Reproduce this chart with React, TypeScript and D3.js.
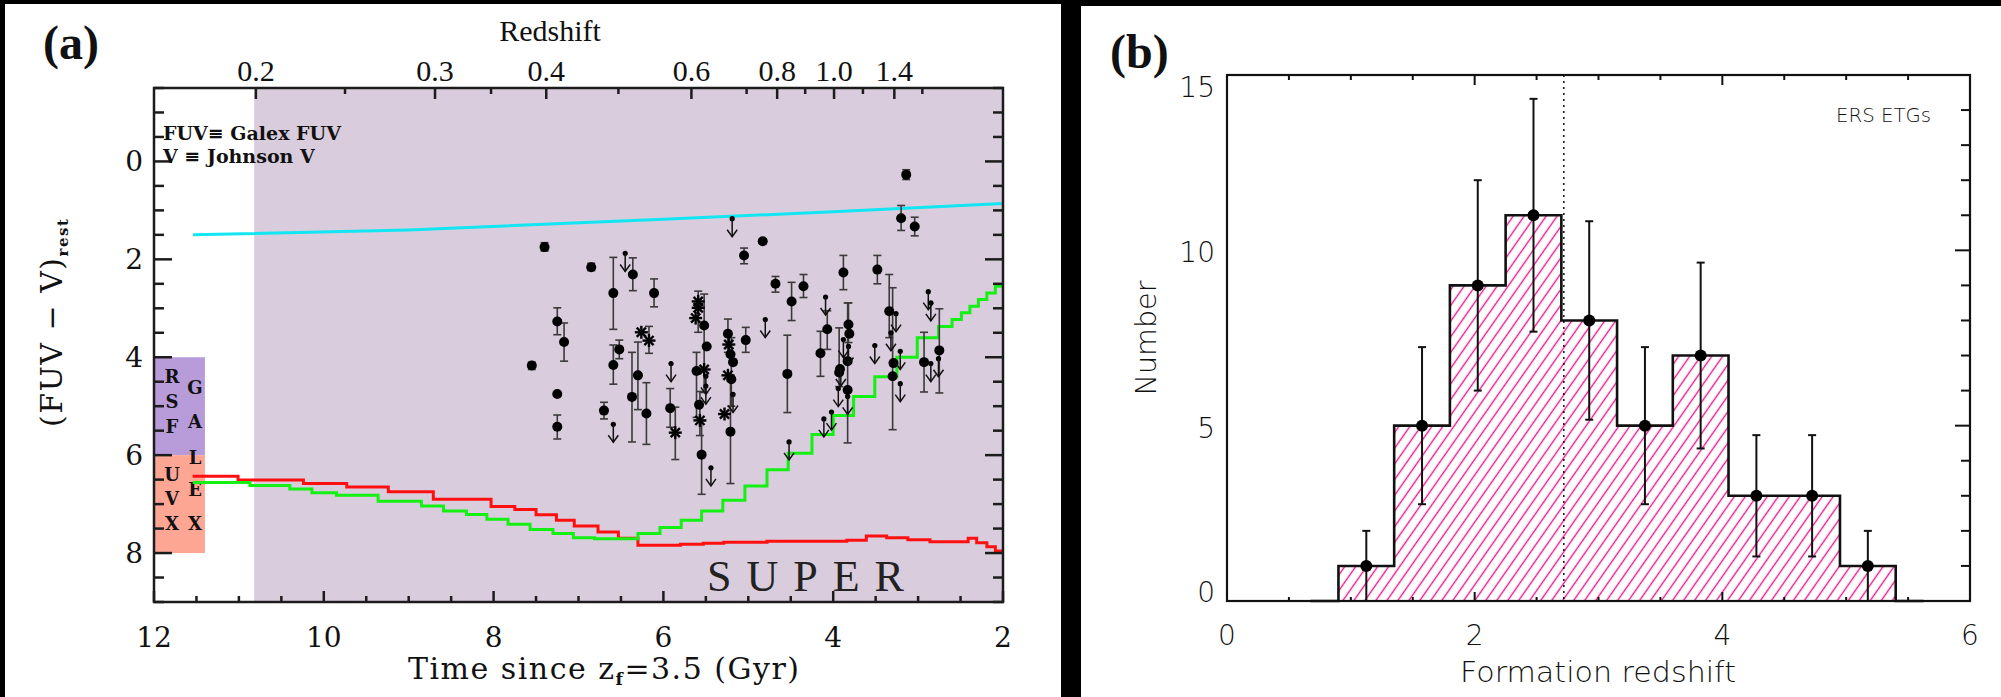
import React from "react";
import * as d3 from "d3";

// ---------------- Panel (a) data ----------------
const timeMajorTicks = [12, 10, 8, 6, 4, 2];
const colourMajorTicks = [0, 2, 4, 6, 8];
const redshiftLabels = ["0.2", "0.3", "0.4", "0.6", "0.8", "1.0", "1.4"];
const redshiftLabelTimes = [10.8, 8.69, 7.38, 5.67, 4.66, 3.99, 3.28];
const redshiftMinorTimes = [9.75, 8.03, 6.53, 5.02, 4.33, 3.65, 2.95];
const shadeStartTime = 10.82;

// cyan model track
const cyanTime = [11.54, 9, 6, 4, 2];
const cyanColour = [1.5, 1.4, 1.18, 1.03, 0.86];

// red stepped model track (value holds until next time)
const redTime = [11.545, 11.01, 10.24, 9.73, 9.24, 8.71, 8.03, 7.75, 7.5, 7.26, 7.05, 6.77, 6.53, 6.3, 5.8, 5.53, 5.29, 4.78, 3.84, 3.61, 3.37, 3.12, 2.86, 2.41, 2.31, 2.19, 2.09, 2.0];
const redColour = [6.43, 6.51, 6.58, 6.65, 6.75, 6.9, 7.05, 7.11, 7.22, 7.33, 7.45, 7.57, 7.7, 7.84, 7.82, 7.8, 7.78, 7.76, 7.74, 7.65, 7.69, 7.73, 7.77, 7.7, 7.79, 7.87, 7.96, 7.96];

// green stepped model track
const greenTime = [11.545, 10.87, 10.4, 10.14, 9.85, 9.36, 8.85, 8.59, 8.32, 8.08, 7.83, 7.57, 7.3, 7.06, 6.81, 6.3, 6.04, 5.79, 5.55, 5.3, 5.04, 4.78, 4.53, 4.25, 4.0, 3.76, 3.51, 3.25, 3.01, 2.76, 2.6, 2.49, 2.39, 2.29, 2.19, 2.09, 2.0];
const greenColour = [6.56, 6.62, 6.69, 6.77, 6.82, 6.94, 7.04, 7.14, 7.21, 7.31, 7.41, 7.52, 7.6, 7.69, 7.71, 7.6, 7.48, 7.33, 7.14, 6.92, 6.63, 6.3, 5.96, 5.58, 5.19, 4.8, 4.4, 4.0, 3.6, 3.37, 3.23, 3.09, 2.96, 2.82, 2.69, 2.55, 2.55];

// detections: [time, colour, errTop, errBottom]
const detections: [number, number, number | null, number | null][] = [
  [7.4, 1.75, 1.66, 1.83], [6.85, 2.16, 2.08, 2.23], [7.55, 4.17, 4.1, 4.25],
  [7.25, 3.27, 2.99, 3.54], [7.17, 3.69, 3.3, 4.08], [7.25, 4.75, null, null],
  [7.25, 5.42, 5.18, 5.67], [6.59, 2.69, 1.96, 3.43], [6.36, 2.31, 1.97, 2.64],
  [6.11, 2.69, 2.4, 2.97], [6.59, 4.16, 3.75, 4.55], [6.52, 3.84, 3.65, 4.03],
  [6.7, 5.09, 4.92, 5.26], [6.37, 4.81, 3.9, 5.73], [6.3, 4.37, 3.69, 5.07],
  [6.2, 5.15, 4.52, 5.78], [5.92, 5.04, 4.64, 5.43], [5.52, 3.35, 2.71, 4.72],
  [5.49, 3.78, null, null], [5.61, 4.28, 3.9, 5.23], [5.58, 4.97, null, null],
  [5.55, 5.99, 5.3, 6.8], [5.24, 3.52, 3.22, 3.9], [5.21, 3.94, null, null],
  [5.18, 4.1, null, null], [5.2, 4.45, 3.6, 5.0], [5.21, 5.52, 4.39, 6.58],
  [5.03, 3.65, 3.39, 3.9], [5.05, 1.92, 1.77, 2.09], [4.83, 1.63, 1.58, 1.68],
  [4.68, 2.5, 2.35, 2.67], [4.35, 2.55, 2.31, 2.78], [4.49, 2.86, 2.47, 3.25],
  [4.54, 4.34, 3.55, 5.13], [4.07, 3.43, 3.05, 3.84], [4.15, 3.92, 3.47, 4.39],
  [3.88, 2.27, 1.92, 2.62], [3.48, 2.21, 1.92, 2.5], [3.82, 3.33, 2.89, 3.7],
  [3.81, 3.52, null, null], [3.83, 4.08, null, null], [3.93, 4.31, 3.4, 4.6],
  [3.92, 4.24, null, null], [3.83, 4.67, 2.89, 5.75], [3.34, 3.06, 2.31, 3.6],
  [3.29, 4.12, null, null], [3.3, 4.39, 2.58, 5.48], [3.2, 1.16, 0.9, 1.41],
  [3.04, 1.33, 1.14, 1.52], [3.14, 0.27, 0.17, 0.37], [2.93, 4.1, 3.49, 4.71],
  [2.75, 3.86, 3.01, 4.73],
];

// asterisks: [time, colour, errTop, errBottom]
const asterisks: [number, number, number | null, number | null][] = [
  [6.26, 3.49, null, null], [6.17, 3.66, 3.37, 3.92], [5.86, 5.54, 5.02, 6.09],
  [5.59, 2.86, 2.65, 3.49], [5.59, 2.99, null, null], [5.62, 3.2, null, null],
  [5.52, 4.25, null, null], [5.57, 5.29, 4.7, 5.6], [5.23, 3.74, null, null],
  [5.24, 4.37, null, null], [5.28, 5.16, null, null],
];

// upper limits: [time, colour]
const upperLimits: [number, number][] = [
  [6.45, 1.88], [6.59, 5.37], [5.91, 4.13], [5.5, 4.39], [5.5, 4.59], [5.44, 6.26],
  [5.18, 4.76], [5.19, 1.17], [4.8, 3.23], [4.52, 5.73], [4.09, 2.77], [3.88, 3.64],
  [3.91, 4.22], [3.94, 4.64], [3.82, 3.78], [3.83, 4.8], [4.11, 5.26], [4.02, 5.12],
  [3.51, 3.76], [3.26, 3.11], [3.21, 3.88], [3.21, 4.54], [3.32, 3.5], [2.88, 2.66],
  [2.85, 2.89], [2.85, 4.13], [2.76, 4.03],
];

const rsfRange = [4, 6];
const uvxRange = [6, 8];
const boxTimeEdge = 11.4;
const rsfLetters = ["R", "S", "F"];
const rsfLetterY = [4.39, 4.9, 5.41];
const uvxLetters = ["U", "V", "X"];
const uvxLetterY = [6.39, 6.87, 7.38];
const galexLetters = ["G", "A", "L", "E", "X"];
const galexLetterY = [4.6, 5.31, 6.03, 6.7, 7.38];

// ---------------- Panel (b) data ----------------
const binEdges = [0.9, 1.35, 1.8, 2.25, 2.7, 3.15, 3.6, 4.05, 4.5, 4.95, 5.4];
const binCounts = [1, 5, 9, 11, 8, 5, 7, 3, 3, 1];
const errLow = [0, 2.76, 6.0, 7.68, 5.17, 2.76, 4.35, 1.27, 1.27, 0];
const errHigh = [2, 7.24, 12.0, 14.32, 10.83, 7.24, 9.65, 4.73, 4.73, 2];
const formationTicks = [0, 2, 4, 6];
const numberTicks = [0, 5, 10, 15];
const medianRedshift = 2.72;
const baselineExtent = [0.675, 5.625];

export default function App() {
  const W = 2001;
  const H = 697;
  const xA = d3.scaleLinear().domain([12, 2]).range([154, 1003]);
  const yA = d3.scaleLinear().domain([-1.5, 9]).range([88, 602]);
  const xB = d3.scaleLinear().domain([0, 6]).range([1227, 1970]);
  const yB = d3.scaleLinear().domain([0, 15]).range([601, 75]);

  const lineA = d3.line<[number, number]>().x((d) => xA(d[0])).y((d) => yA(d[1]));
  const stepA = d3
    .line<[number, number]>()
    .x((d) => xA(d[0]))
    .y((d) => yA(d[1]))
    .curve(d3.curveStepAfter);

  const cyanPts = cyanTime.map((t, i) => [t, cyanColour[i]] as [number, number]);
  const redPts = redTime.map((t, i) => [t, redColour[i]] as [number, number]);
  const greenPts = greenTime.map((t, i) => [t, greenColour[i]] as [number, number]);

  const axisCol = "#1c1c1c";
  const minorTime = d3.range(2, 12.01, 0.5).filter((v) => !timeMajorTicks.includes(v));
  const minorColour = d3.range(-1.5, 9.01, 0.5).filter((v) => !colourMajorTicks.includes(v));

  // histogram outline
  const histPts: [number, number][] = [[baselineExtent[0], 0], [binEdges[0], 0]];
  binCounts.forEach((c, i) => {
    histPts.push([binEdges[i], c]);
    histPts.push([binEdges[i + 1], c]);
  });
  histPts.push([binEdges[binEdges.length - 1], 0]);
  histPts.push([baselineExtent[1], 0]);
  const lineB = d3.line<[number, number]>().x((d) => xB(d[0])).y((d) => yB(d[1]));
  const fillPts = histPts.slice(1, histPts.length - 1);

  const errBar = (x: number, y1: number, y2: number, key: string, col = "#3a3a3a", cap = 4, w = 1.6) => (
    <g key={key} stroke={col} strokeWidth={w}>
      <line x1={x} x2={x} y1={y1} y2={y2} />
      <line x1={x - cap} x2={x + cap} y1={y1} y2={y1} />
      <line x1={x - cap} x2={x + cap} y1={y2} y2={y2} />
    </g>
  );

  const serif = "'DejaVu Serif', serif";
  const times = "'Liberation Serif', 'Times New Roman', serif";
  const sans = "'DejaVu Sans', sans-serif";

  return (
    <div>
      <style>{`body{margin:0;background:#000}`}</style>
      <svg width={W} height={H} style={{ display: "block" }}>
        <defs>
          <pattern id="hatch" patternUnits="userSpaceOnUse" width={9} height={9} patternTransform="rotate(35)">
            <line x1={4.5} y1={0} x2={4.5} y2={9} stroke="#e6198a" strokeWidth={1.4} />
          </pattern>
          <clipPath id="clipA">
            <rect x={154} y={88} width={849} height={514} />
          </clipPath>
        </defs>
        <rect x={0} y={0} width={W} height={H} fill="#000" />
        <rect x={5} y={4} width={1056} height={H - 4} fill="#fff" />
        <rect x={1081} y={6} width={W - 1081} height={H - 6} fill="#fff" />

        {/* ======== Panel (a) ======== */}
        <text x={43} y={59} fontFamily={times} fontWeight="bold" fontSize={48} fill="#111">(a)</text>

        <rect x={xA(shadeStartTime)} y={88} width={xA(2) - xA(shadeStartTime)} height={514} fill="#d9ccdd" />
        <rect x={xA(12)} y={yA(rsfRange[0])} width={xA(boxTimeEdge) - xA(12)} height={yA(rsfRange[1]) - yA(rsfRange[0])} fill="#b89cd9" />
        <rect x={xA(12)} y={yA(uvxRange[0])} width={xA(boxTimeEdge) - xA(12)} height={yA(uvxRange[1]) - yA(uvxRange[0])} fill="#fda694" />
        <g fontFamily={serif} fontWeight="bold" fontSize={18} fill="#111" textAnchor="middle">
          {rsfLetters.map((l, i) => (
            <text key={"r" + l} x={172} y={yA(rsfLetterY[i]) + 7}>{l}</text>
          ))}
          {uvxLetters.map((l, i) => (
            <text key={"u" + l} x={172} y={yA(uvxLetterY[i]) + 7}>{l}</text>
          ))}
          {galexLetters.map((l, i) => (
            <text key={"g" + i} x={195} y={yA(galexLetterY[i]) + 7}>{l}</text>
          ))}
        </g>

        <g clipPath="url(#clipA)" fill="none" strokeWidth={3}>
          <path d={lineA(cyanPts) || ""} stroke="#11e6f2" />
          <path d={stepA(redPts) || ""} stroke="#ff1010" />
          <path d={stepA(greenPts) || ""} stroke="#14f014" />
        </g>

        {/* error bars */}
        {detections.map((d, i) =>
          d[2] !== null && d[3] !== null ? errBar(xA(d[0]), yA(d[2] as number), yA(d[3] as number), "de" + i) : null
        )}
        {asterisks.map((d, i) =>
          d[2] !== null && d[3] !== null ? errBar(xA(d[0]), yA(d[2] as number), yA(d[3] as number), "ae" + i) : null
        )}
        {detections.map((d, i) => (
          <circle key={"d" + i} cx={xA(d[0])} cy={yA(d[1])} r={5} fill="#000" />
        ))}
        {asterisks.map((d, i) => {
          const cx = xA(d[0]);
          const cy = yA(d[1]);
          const r = 6.5;
          const q = r * 0.707;
          return (
            <g key={"a" + i} stroke="#000" strokeWidth={2.4}>
              <line x1={cx - r} x2={cx + r} y1={cy} y2={cy} />
              <line x1={cx} x2={cx} y1={cy - r} y2={cy + r} />
              <line x1={cx - q} x2={cx + q} y1={cy - q} y2={cy + q} />
              <line x1={cx - q} x2={cx + q} y1={cy + q} y2={cy - q} />
            </g>
          );
        })}
        {upperLimits.map((d, i) => {
          const cx = xA(d[0]);
          const cy = yA(d[1]);
          return (
            <g key={"l" + i} stroke="#111" strokeWidth={1.5} fill="none">
              <circle cx={cx} cy={cy} r={2.6} fill="#000" stroke="none" />
              <line x1={cx} x2={cx} y1={cy} y2={cy + 18} />
              <polyline points={`${cx - 5},${cy + 11} ${cx},${cy + 18} ${cx + 5},${cy + 11}`} />
            </g>
          );
        })}

        {/* frame + ticks */}
        <rect x={154} y={88} width={849} height={514} fill="none" stroke={axisCol} strokeWidth={2.5} />
        <g stroke={axisCol} strokeWidth={2.5}>
          {timeMajorTicks.map((t) => (
            <line key={"bt" + t} x1={xA(t)} x2={xA(t)} y1={602} y2={591} />
          ))}
          {minorTime.map((t) => (
            <line key={"bm" + t} x1={xA(t)} x2={xA(t)} y1={602} y2={596} />
          ))}
          {redshiftLabelTimes.map((t, i) => (
            <line key={"tt" + i} x1={xA(t)} x2={xA(t)} y1={88} y2={99} />
          ))}
          {redshiftMinorTimes.map((t, i) => (
            <line key={"tm" + i} x1={xA(t)} x2={xA(t)} y1={88} y2={94} />
          ))}
          {colourMajorTicks.map((c) => (
            <g key={"yc" + c}>
              <line x1={154} x2={172} y1={yA(c)} y2={yA(c)} />
              <line x1={1003} x2={985} y1={yA(c)} y2={yA(c)} />
            </g>
          ))}
          {minorColour.map((c) => (
            <g key={"ym" + c}>
              <line x1={154} x2={164} y1={yA(c)} y2={yA(c)} />
              <line x1={1003} x2={993} y1={yA(c)} y2={yA(c)} />
            </g>
          ))}
        </g>

        <g fontFamily={serif} fontSize={28} fill="#111">
          {timeMajorTicks.map((t) => (
            <text key={"btl" + t} x={xA(t)} y={647} textAnchor="middle">{t}</text>
          ))}
          {colourMajorTicks.map((c) => (
            <text key={"ycl" + c} x={143} y={yA(c) + 10} textAnchor="end">{c}</text>
          ))}
        </g>
        <g fontFamily={times} fontSize={30} fill="#111">
          {redshiftLabels.map((l, i) => (
            <text key={"zl" + i} x={xA(redshiftLabelTimes[i])} y={81} textAnchor="middle">{l}</text>
          ))}
          <text x={550} y={41} textAnchor="middle">Redshift</text>
        </g>
        <text x={408} y={679} fontFamily={serif} fontSize={30} letterSpacing={1.5} fill="#111">
          Time since z<tspan fontSize={17} fontWeight="bold" dy={6}>f</tspan>
          <tspan dy={-6}>=3.5 (Gyr)</tspan>
        </text>
        <text transform="translate(62,427) rotate(-90)" fontFamily={serif} fontSize={30} letterSpacing={1.5} fill="#111">
          (FUV − V)<tspan fontSize={15} fontWeight="bold" dy={6}>rest</tspan>
        </text>
        <g fontFamily={serif} fontWeight="bold" fontSize={19} fill="#111">
          <text x={163} y={140}>FUV≡ Galex FUV</text>
          <text x={163} y={163}>V ≡ Johnson V</text>
        </g>
        <text x={707} y={591} fontFamily={times} fontSize={44} letterSpacing={15} fill="#222">SUPER</text>

        {/* ======== Panel (b) ======== */}
        <text x={1110} y={68} fontFamily={times} fontWeight="bold" fontSize={48} fill="#111">(b)</text>
        <path d={(lineB(fillPts) || "") + "Z"} fill="url(#hatch)" stroke="none" />
        <line x1={xB(medianRedshift)} x2={xB(medianRedshift)} y1={75} y2={601} stroke="#111" strokeWidth={1.5} strokeDasharray="2 4" />
        <path d={lineB(histPts) || ""} fill="none" stroke="#111" strokeWidth={2.6} />
        {binCounts.map((c, i) => {
          const cx = xB((binEdges[i] + binEdges[i + 1]) / 2);
          return (
            <g key={"hb" + i}>
              {errBar(cx, yB(errHigh[i]), yB(errLow[i]), "he" + i, "#111", 4, 2)}
              <circle cx={cx} cy={yB(c)} r={6} fill="#000" />
            </g>
          );
        })}
        <rect x={1227} y={75} width={743} height={526} fill="none" stroke="#111" strokeWidth={2.2} />
        <g stroke="#111" strokeWidth={2}>
          {d3.range(0.5, 6, 0.5).map((v) => {
            const major = formationTicks.includes(v);
            return (
              <g key={"xt" + v}>
                <line x1={xB(v)} x2={xB(v)} y1={601} y2={601 - (major ? 9 : 4)} />
                <line x1={xB(v)} x2={xB(v)} y1={75} y2={75 + (major ? 10 : 5)} />
              </g>
            );
          })}
          {d3.range(1, 15, 1).map((v) => {
            const major = numberTicks.includes(v);
            return <line key={"yt" + v} x1={1970} x2={1970 - (major ? 15 : 9)} y1={yB(v)} y2={yB(v)} />;
          })}
        </g>
        <g fontFamily={sans} fontWeight={200} fontSize={28} fill="#111">
          {formationTicks.map((v) => (
            <text key={"xl" + v} x={xB(v)} y={645} textAnchor="middle">{v}</text>
          ))}
          {numberTicks.map((v, i) => {
            const y = i === numberTicks.length - 1 ? yB(v) + 22 : i === 0 ? yB(v) + 1 : yB(v) + 12;
            return (
              <text key={"yl" + v} x={1215} y={y} textAnchor="end">{v}</text>
            );
          })}
          <text x={1598} y={682} textAnchor="middle" textLength={276} lengthAdjust="spacingAndGlyphs">Formation redshift</text>
          <text transform="translate(1156,338) rotate(-90)" textAnchor="middle" textLength={115} lengthAdjust="spacingAndGlyphs">Number</text>
        </g>
        <text x={1836} y={122} fontFamily={sans} fontWeight={200} fontSize={19} fill="#111" textLength={95} lengthAdjust="spacingAndGlyphs">ERS ETGs</text>
      </svg>
    </div>
  );
}
